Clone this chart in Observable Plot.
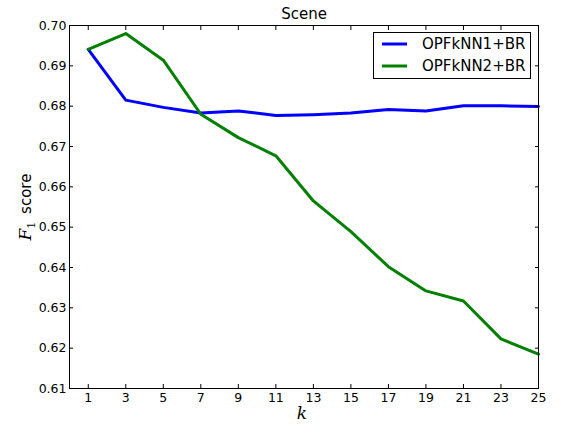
<!DOCTYPE html>
<html>
<head>
<meta charset="utf-8">
<script src="https://cdn.jsdelivr.net/npm/d3@7"></script>
<script src="https://cdn.jsdelivr.net/npm/@observablehq/plot@0.6"></script>
<style>
  body { margin: 0; background: #fff; }
  #chart { width: 561px; height: 425px; }
</style>
</head>
<body>
<div id="chart"></div>
<script>
// Number of neighbours k on the x axis
const kValues = [1, 3, 5, 7, 9, 11, 13, 15, 17, 19, 21, 23, 25];
// F1 score for each classifier
const opfknn1 = [0.6941, 0.6815, 0.6797, 0.6783, 0.6788, 0.6777, 0.6779, 0.6783, 0.6792, 0.6788, 0.6801, 0.6801, 0.6799];
const opfknn2 = [0.6941, 0.6980, 0.6914, 0.6780, 0.6722, 0.6677, 0.6565, 0.6489, 0.6402, 0.6342, 0.6317, 0.6223, 0.6185];
const seriesNames = ["OPFkNN1+BR", "OPFkNN2+BR"];
const seriesColors = ["#0000ff", "#008000"];
const yTicks = [0.61, 0.62, 0.63, 0.64, 0.65, 0.66, 0.67, 0.68, 0.69, 0.70];
const xTicks = kValues;
const chartTitle = "Scene";
const xLabel = "k";
const yLabel = "F1 score";

const rows = [];
[opfknn1, opfknn2].forEach((values, s) => {
  kValues.forEach((k, i) => rows.push({ k, score: values[i], series: seriesNames[s] }));
});

const W = 561, H = 425;
const mL = 69, mR = 23, mT = 25, mB = 37;

const chart = Plot.plot({
  width: W,
  height: H,
  marginLeft: mL,
  marginRight: mR,
  marginTop: mT,
  marginBottom: mB,
  style: { fontFamily: "DejaVu Sans", fontSize: "12.5px", color: "#000", background: "#fff" },
  x: { domain: [0, 25] },
  y: { domain: [0.61, 0.70] },
  color: { domain: seriesNames, range: seriesColors },
  marks: [
    Plot.line(rows, { x: "k", y: "score", z: "series", stroke: "series", strokeWidth: 3, strokeLinejoin: "round" }),
    Plot.frame({ stroke: "#000", strokeWidth: 1 }),
    Plot.axisX(xTicks, { anchor: "bottom", tickSize: -4, tickPadding: 9, tickFormat: d => String(d), label: null }),
    Plot.axisX(xTicks, { anchor: "top", tickSize: -4, tickFormat: () => "", label: null }),
    Plot.axisY(yTicks, { anchor: "left", tickSize: -4, tickPadding: 7, tickFormat: d3.format(".2f"), label: null }),
    Plot.axisY(yTicks, { anchor: "right", tickSize: -4, tickFormat: () => "", label: null }),
    Plot.text([chartTitle], { frameAnchor: "top", text: d => d, dy: -11, lineAnchor: "middle", fontSize: 15 }),
    Plot.text([xLabel], { frameAnchor: "bottom", text: d => d, dy: 25, dx: -2, lineAnchor: "middle", fontSize: 17, fontStyle: "italic", fontFamily: "DejaVu Serif" }),
    Plot.text([yLabel], { frameAnchor: "left", text: d => d, dx: -43, rotate: -90, textAnchor: "middle", lineAnchor: "middle", fontSize: 15 })
  ]
});

document.getElementById("chart").appendChild(chart);

const svg = d3.select(chart);

// Drop empty tick labels from the mirrored axes
svg.selectAll("text").filter(function () { return this.textContent === ""; }).remove();

// Y label with an italic F and subscript 1
svg.selectAll("text").filter(function () { return this.textContent === yLabel; }).each(function () {
  const t = d3.select(this);
  t.text(null);
  t.append("tspan").attr("font-family", "DejaVu Serif").attr("font-style", "italic").attr("font-size", 17).text("F");
  t.append("tspan").attr("font-family", "DejaVu Serif").attr("font-size", 11).attr("dy", 4).text("1");
  t.append("tspan").attr("dy", -4).text("\u2009 score");
});

// Legend box in the upper right corner of the plot area
const boxW = 157, boxH = 46;
const boxX = W - mR - 8 - boxW, boxY = mT + 7;
const legend = svg.append("g").attr("aria-label", "legend").attr("text-anchor", "start");
legend.append("rect")
  .attr("x", boxX + 0.5).attr("y", boxY + 0.5)
  .attr("width", boxW).attr("height", boxH)
  .attr("fill", "#fff").attr("stroke", "#000").attr("stroke-width", 1);
seriesNames.forEach((name, i) => {
  const cy = boxY + 12 + i * 22;
  legend.append("line")
    .attr("x1", boxX + 9).attr("x2", boxX + 34)
    .attr("y1", cy).attr("y2", cy)
    .attr("stroke", seriesColors[i]).attr("stroke-width", 3);
  legend.append("text")
    .attr("x", boxX + 49).attr("y", cy).attr("dy", "0.35em")
    .attr("text-anchor", "start")
    .attr("font-family", "DejaVu Sans").attr("font-size", 15).attr("fill", "#000")
    .text(name);
});
</script>
</body>
</html>
